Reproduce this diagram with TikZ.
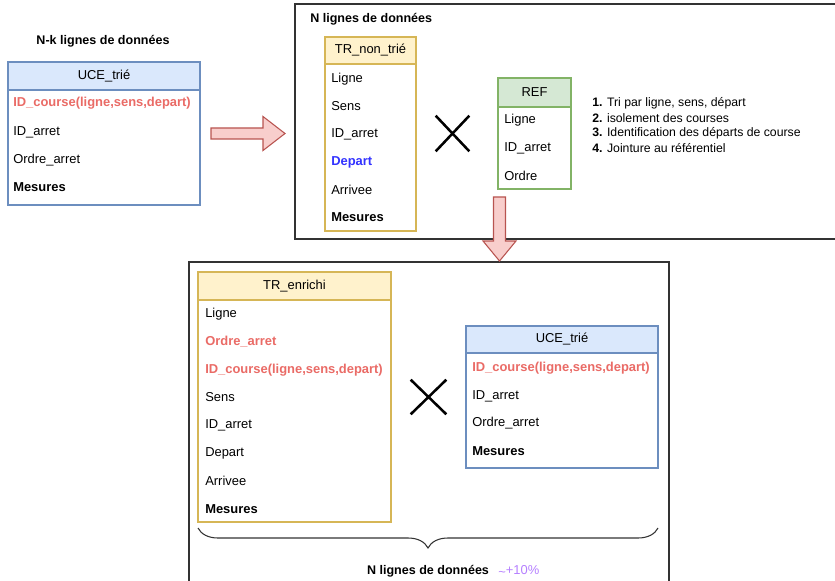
\documentclass[tikz,border=0pt]{standalone}
\usepackage{fontspec}
\setmainfont{Liberation Sans}
\usetikzlibrary{fit,shapes.misc,decorations.pathreplacing}
\definecolor{blueF}{HTML}{DAE8FC}
\definecolor{blueD}{HTML}{6C8EBF}
\definecolor{yelF}{HTML}{FFF2CC}
\definecolor{yelD}{HTML}{D6B656}
\definecolor{greenF}{HTML}{D5E8D4}
\definecolor{greenD}{HTML}{82B366}
\definecolor{redF}{HTML}{F8CECC}
\definecolor{redD}{HTML}{B85450}
\definecolor{redT}{HTML}{EA6B66}
\definecolor{blueT}{HTML}{3333FF}
\definecolor{purpleT}{HTML}{B57FFF}
\definecolor{frameC}{HTML}{333333}
\newcommand\fieldfont{\fontsize{9.7pt}{11.6pt}\selectfont}
\newcommand\titlefont{\fontsize{9.4pt}{11.3pt}\selectfont}
\newcommand\listfont{\fontsize{9.2pt}{11pt}\selectfont}
\begin{document}
\begin{tikzpicture}[x=0.75pt,y=-0.75pt,
  container/.style={draw=frameC, line width=1pt, inner sep=0pt},
  hdrbox/.style={inner sep=0pt, line width=0.8pt},
  bodybox/.style={inner sep=0pt, line width=0.8pt, fill=white},
  hdrtext/.style={inner sep=0pt, font=\fieldfont},
  field/.style={anchor=west, inner sep=0pt, font=\fieldfont},
  keyfield/.style={anchor=west, inner sep=0pt, font=\fieldfont\bfseries},
  titletext/.style={inner sep=0pt, font=\titlefont\bfseries},
  listtext/.style={anchor=west, inner sep=0pt, font=\listfont},
  crossmark/.style={cross out, draw=black, line width=1.9pt, inner sep=0pt},
  blockarrow/.style={draw=redD, fill=redF, line width=0.8pt, line join=miter},
  bracestyle/.style={draw=frameC, line width=0.8pt, decorate,
     decoration={brace, mirror, amplitude=15pt}}
]
\useasboundingbox (0,0) rectangle (835,581);
\clip (0,0) rectangle (835,581);

% containers
\node[container, fit={(295,4)(850,239)}] (topbox) {};
\node[container, fit={(189,262)(669,600)}] (botbox) {};

% ---------- top-left UCE_trie ----------
\node[titletext] (titleA) at (103,41) {N-k lignes de données};
\node[hdrbox, fill=blueF, draw=blueD, fit={(8,62)(200,90)}] (uceAh) {};
\node[bodybox, draw=blueD, fit={(8,90)(200,205)}] (uceAb) {};
\node[hdrtext] (uceAt) at (uceAh.center) {UCE\_trié};
\node[keyfield, text=redT] (uceA1) at (13,103) {ID\_course(ligne,sens,depart)};
\node[field] (uceA2) at (13,132) {ID\_arret};
\node[field] (uceA3) at (13,160) {Ordre\_arret};
\node[keyfield] (uceA4) at (13,187) {Mesures};

% ---------- top box ----------
\node[titletext, anchor=west] (titleB) at (310,19) {N lignes de données};
\node[hdrbox, fill=yelF, draw=yelD, fit={(325,37)(416,64)}] (trh) {};
\node[bodybox, draw=yelD, fit={(325,64)(416,231)}] (trb) {};
\node[hdrtext] (trt) at (trh.center) {TR\_non\_trié};
\node[field] (tr1) at (331,79) {Ligne};
\node[field] (tr2) at (331,106) {Sens};
\node[field] (tr3) at (331,134) {ID\_arret};
\node[keyfield, text=blueT] (tr4) at (331,162) {Depart};
\node[field] (tr5) at (331,190) {Arrivee};
\node[keyfield] (tr6) at (331,217) {Mesures};

\node[crossmark, minimum width=23.3pt, minimum height=24.8pt] (crossA) at (452.5,133.5) {};

\node[hdrbox, fill=greenF, draw=greenD, fit={(498,78)(571,107)}] (refh) {};
\node[bodybox, draw=greenD, fit={(498,107)(571,189)}] (refb) {};
\node[hdrtext] (reft) at (refh.center) {REF};
\node[field] (ref1) at (504,120) {Ligne};
\node[field] (ref2) at (504,148) {ID\_arret};
\node[field] (ref3) at (504,176) {Ordre};

\node[listtext] (li1) at (592,103) {\textbf{1.} Tri par ligne, sens, départ};
\node[listtext] (li2) at (592,118) {\textbf{2.} isolement des courses};
\node[listtext] (li3) at (592,133) {\textbf{3.} Identification des départs de course};
\node[listtext] (li4) at (592,148) {\textbf{4.} Jointure au référentiel};

% ---------- bottom box ----------
\node[hdrbox, fill=yelF, draw=yelD, fit={(198,272)(391,300)}] (enh) {};
\node[bodybox, draw=yelD, fit={(198,300)(391,522)}] (enb) {};
\node[hdrtext] (ent) at (enh.center) {TR\_enrichi};
\node[field] (en1) at (205,314) {Ligne};
\node[keyfield, text=redT] (en2) at (205,342) {Ordre\_arret};
\node[keyfield, text=redT] (en3) at (205,370) {ID\_course(ligne,sens,depart)};
\node[field] (en4) at (205,397) {Sens};
\node[field] (en5) at (205,425) {ID\_arret};
\node[field] (en6) at (205,453) {Depart};
\node[field] (en7) at (205,481) {Arrivee};
\node[keyfield] (en8) at (205,509) {Mesures};

\node[crossmark, minimum width=24.8pt, minimum height=24pt] (crossB) at (428.5,397) {};

\node[hdrbox, fill=blueF, draw=blueD, fit={(466,326)(658,353)}] (uceBh) {};
\node[bodybox, draw=blueD, fit={(466,353)(658,468)}] (uceBb) {};
\node[hdrtext] (uceBt) at (uceBh.center) {UCE\_trié};
\node[keyfield, text=redT] (uceB1) at (472,368) {ID\_course(ligne,sens,depart)};
\node[field] (uceB2) at (472,396) {ID\_arret};
\node[field] (uceB3) at (472,423) {Ordre\_arret};
\node[keyfield] (uceB4) at (472,451) {Mesures};

% brace and caption
\coordinate (brL) at (198,528);
\coordinate (brR) at (658,528);
\draw[bracestyle] (brL) -- (brR);
\node[titletext] (titleC) at (428,571) {N lignes de données};
\node[anchor=west, inner sep=0pt, font=\fieldfont, text=purpleT] (pct) at (498,571) {\raisebox{-0.3ex}{\textasciitilde}+10\%};

% ---------- block arrows ----------
\draw[blockarrow] (211,128) -- (263,128) -- (263,116.5) -- (285,133.5)
   -- (263,150.5) -- (263,139) -- (211,139) -- cycle;
\draw[blockarrow] (493.5,197) -- (505.5,197) -- (505.5,241) -- (516,241)
   -- (499.5,261) -- (483,241) -- (493.5,241) -- cycle;
\end{tikzpicture}
\end{document}
